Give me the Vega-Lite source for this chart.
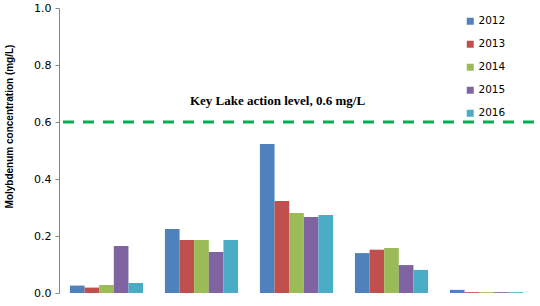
{
  "$schema": "https://vega.github.io/schema/vega-lite/v6.json",
  "autosize": "none",
  "width": 475,
  "height": 285,
  "padding": {"left": 59, "top": 8, "right": 6, "bottom": 13},
  "background": "white",
  "config": {"view": {"stroke": null}},
  "datasets": {
    "mo": [
      {"site": "Site 1", "year": "2012", "mo": 0.026},
      {"site": "Site 1", "year": "2013", "mo": 0.019},
      {"site": "Site 1", "year": "2014", "mo": 0.028},
      {"site": "Site 1", "year": "2015", "mo": 0.165},
      {"site": "Site 1", "year": "2016", "mo": 0.035},
      {"site": "Site 2", "year": "2012", "mo": 0.225},
      {"site": "Site 2", "year": "2013", "mo": 0.186},
      {"site": "Site 2", "year": "2014", "mo": 0.186},
      {"site": "Site 2", "year": "2015", "mo": 0.144},
      {"site": "Site 2", "year": "2016", "mo": 0.186},
      {"site": "Site 3", "year": "2012", "mo": 0.523},
      {"site": "Site 3", "year": "2013", "mo": 0.323},
      {"site": "Site 3", "year": "2014", "mo": 0.281},
      {"site": "Site 3", "year": "2015", "mo": 0.267},
      {"site": "Site 3", "year": "2016", "mo": 0.274},
      {"site": "Site 4", "year": "2012", "mo": 0.140},
      {"site": "Site 4", "year": "2013", "mo": 0.152},
      {"site": "Site 4", "year": "2014", "mo": 0.158},
      {"site": "Site 4", "year": "2015", "mo": 0.098},
      {"site": "Site 4", "year": "2016", "mo": 0.081},
      {"site": "Site 5", "year": "2012", "mo": 0.011},
      {"site": "Site 5", "year": "2013", "mo": 0.003},
      {"site": "Site 5", "year": "2014", "mo": 0.003},
      {"site": "Site 5", "year": "2015", "mo": 0.003},
      {"site": "Site 5", "year": "2016", "mo": 0.003}
    ],
    "level": [
      {"site": "Site 3", "level": 0.6, "labelY": 0.675, "label": "Key Lake action level, 0.6 mg/L"}
    ]
  },
  "data": {"name": "mo"},
  "encoding": {
    "x": {"field": "site", "type": "nominal", "axis": null,
          "scale": {"domain": ["Site 1", "Site 2", "Site 3", "Site 4", "Site 5"], "paddingInner": 0.23, "paddingOuter": 0.115}}
  },
  "layer": [
    {
      "mark": {"type": "bar"},
      "encoding": {
        "y": {"field": "mo", "type": "quantitative",
              "scale": {"domain": [0, 1], "nice": false},
              "axis": {"title": "Molybdenum concentration (mg/L)", "values": [0, 0.2, 0.4, 0.6, 0.8, 1.0],
                       "format": ".1f", "grid": false, "domainColor": "#868686", "tickColor": "#868686",
                       "tickSize": 4, "labelPadding": 4, "labelFont": "DejaVu Sans", "labelFontSize": 11,
                       "labelColor": "#000000", "titleFont": "Liberation Sans", "titleFontSize": 10,
                       "titleFontWeight": "bold", "titleColor": "#000000", "titleX": -50, "titleY": 118,
                       "titleAngle": -90, "titleBaseline": "middle", "titleAlign": "center"}},
        "xOffset": {"field": "year", "type": "nominal", "scale": {"paddingInner": 0, "paddingOuter": 0}},
        "color": {"field": "year", "type": "nominal",
                  "scale": {"domain": ["2012", "2013", "2014", "2015", "2016"],
                            "range": ["#4F81BD", "#C0504D", "#9BBB59", "#8064A2", "#4BACC6"]},
                  "legend": {"title": null, "orient": "none", "legendX": 406, "legendY": 8,
                             "symbolType": "square", "symbolSize": 49, "symbolStrokeWidth": 0,
                             "labelFont": "DejaVu Sans", "labelFontSize": 10.5, "labelColor": "#000000",
                             "labelOffset": 3, "rowPadding": 12}}
      }
    },
    {
      "data": {"name": "level"},
      "mark": {"type": "rule", "color": "#00B050", "strokeWidth": 3, "strokeDash": [11, 9]},
      "encoding": {"x": null, "y": {"field": "level", "type": "quantitative"}}
    },
    {
      "data": {"name": "level"},
      "mark": {"type": "text", "font": "Liberation Serif", "fontWeight": "bold", "fontSize": 13,
               "align": "center", "baseline": "middle", "dx": -19, "color": "#000000"},
      "encoding": {"y": {"field": "labelY", "type": "quantitative"},
                   "text": {"field": "label"}}
    }
  ]
}
